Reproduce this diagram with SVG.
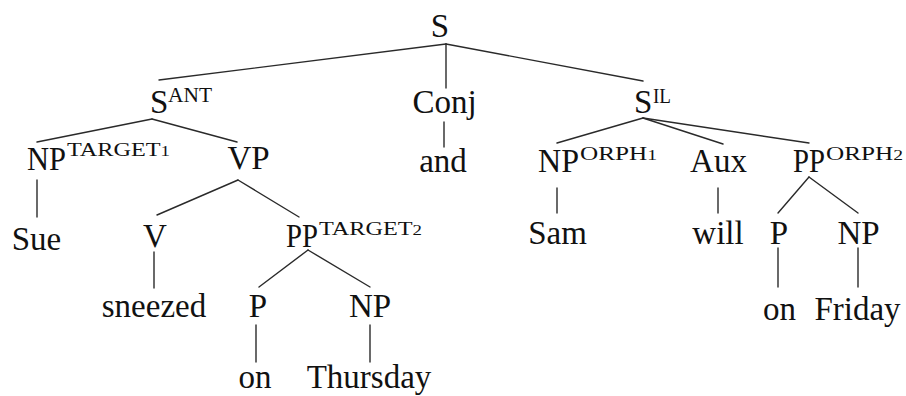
<svg xmlns="http://www.w3.org/2000/svg" width="906" height="396" viewBox="0 0 906 396">
<style>
text{font-family:"Liberation Serif","Times New Roman",serif;fill:#111;}
.l{font-size:33px;text-anchor:middle;}
.b{font-size:33px;}
.sa{font-size:22px;}
.ss{font-size:18px;}
.d{font-size:14px;}
.e line{stroke:#2a2a2a;stroke-width:1.4;stroke-linecap:round;}
</style>
<rect width="906" height="396" fill="#fff"/>
<g class="e" id="connectors">
<line x1="446" y1="44" x2="159" y2="80"/>
<line x1="446" y1="44" x2="446" y2="88"/>
<line x1="446" y1="44" x2="643" y2="81"/>
<line x1="152" y1="119" x2="37" y2="142"/>
<line x1="152" y1="119" x2="237" y2="142"/>
<line x1="37" y1="180" x2="37" y2="217"/>
<line x1="238" y1="180" x2="157" y2="215"/>
<line x1="238" y1="180" x2="299" y2="217"/>
<line x1="154" y1="252" x2="154" y2="288"/>
<line x1="308" y1="250" x2="259" y2="287"/>
<line x1="308" y1="250" x2="370" y2="287"/>
<line x1="256" y1="325" x2="256" y2="362"/>
<line x1="370" y1="325" x2="370" y2="362"/>
<line x1="444" y1="122" x2="444" y2="147"/>
<line x1="643" y1="118" x2="557" y2="143"/>
<line x1="643" y1="118" x2="723" y2="144"/>
<line x1="643" y1="118" x2="809" y2="143"/>
<line x1="557" y1="188" x2="557" y2="213"/>
<line x1="718" y1="188" x2="718" y2="213"/>
<line x1="809" y1="177" x2="778" y2="213"/>
<line x1="809" y1="177" x2="858" y2="213"/>
<line x1="778" y1="248" x2="778" y2="287"/>
<line x1="858" y1="248" x2="858" y2="287"/>
</g>
<g id="n-S"><text class="l" x="440" y="37">S</text></g>
<g id="n-Sant"><text class="b" x="150" y="113">S</text><text class="sa" x="168" y="102" textLength="44" lengthAdjust="spacingAndGlyphs">ANT</text></g>
<g id="n-Conj"><text class="l" x="444.5" y="113">Conj</text></g>
<g id="n-Sil"><text class="b" x="634" y="113">S</text><text class="sa" x="653" y="103" textLength="18" lengthAdjust="spacingAndGlyphs">IL</text></g>
<g id="n-NPt1"><text class="b" x="27" y="170" textLength="39" lengthAdjust="spacingAndGlyphs">NP</text><text class="ss" x="67" y="156" textLength="103" lengthAdjust="spacingAndGlyphs">TARGET<tspan class="d">1</tspan></text></g>
<g id="n-VP"><text class="l" x="248.5" y="169">VP</text></g>
<g id="n-and"><text class="l" x="443" y="172">and</text></g>
<g id="n-NPo1"><text class="b" x="538" y="172" textLength="41" lengthAdjust="spacingAndGlyphs">NP</text><text class="ss" x="580" y="160" textLength="77" lengthAdjust="spacingAndGlyphs">ORPH<tspan class="d">1</tspan></text></g>
<g id="n-Aux"><text class="l" x="718.5" y="172">Aux</text></g>
<g id="n-PPo2"><text class="b" x="793" y="172" textLength="32" lengthAdjust="spacingAndGlyphs">PP</text><text class="ss" x="826" y="160" textLength="77" lengthAdjust="spacingAndGlyphs">ORPH<tspan class="d">2</tspan></text></g>
<g id="n-Sue"><text class="l" x="36.5" y="250">Sue</text></g>
<g id="n-V"><text class="l" x="155" y="247">V</text></g>
<g id="n-PPt2"><text class="b" x="286" y="247" textLength="32" lengthAdjust="spacingAndGlyphs">PP</text><text class="ss" x="319" y="235" textLength="103" lengthAdjust="spacingAndGlyphs">TARGET<tspan class="d">2</tspan></text></g>
<g id="n-sneezed"><text class="l" x="154" y="317">sneezed</text></g>
<g id="n-P1"><text class="l" x="258" y="317">P</text></g>
<g id="n-NP1"><text class="l" x="370" y="317">NP</text></g>
<g id="n-on1"><text class="l" x="255" y="388">on</text></g>
<g id="n-Thursday"><text class="l" x="369" y="388">Thursday</text></g>
<g id="n-Sam"><text class="l" x="557.5" y="244">Sam</text></g>
<g id="n-will"><text class="l" x="718" y="244">will</text></g>
<g id="n-P2"><text class="l" x="779" y="244">P</text></g>
<g id="n-NP2"><text class="l" x="858.5" y="244">NP</text></g>
<g id="n-on2"><text class="l" x="779.5" y="320">on</text></g>
<g id="n-Friday"><text class="l" x="857.5" y="320">Friday</text></g>
</svg>
